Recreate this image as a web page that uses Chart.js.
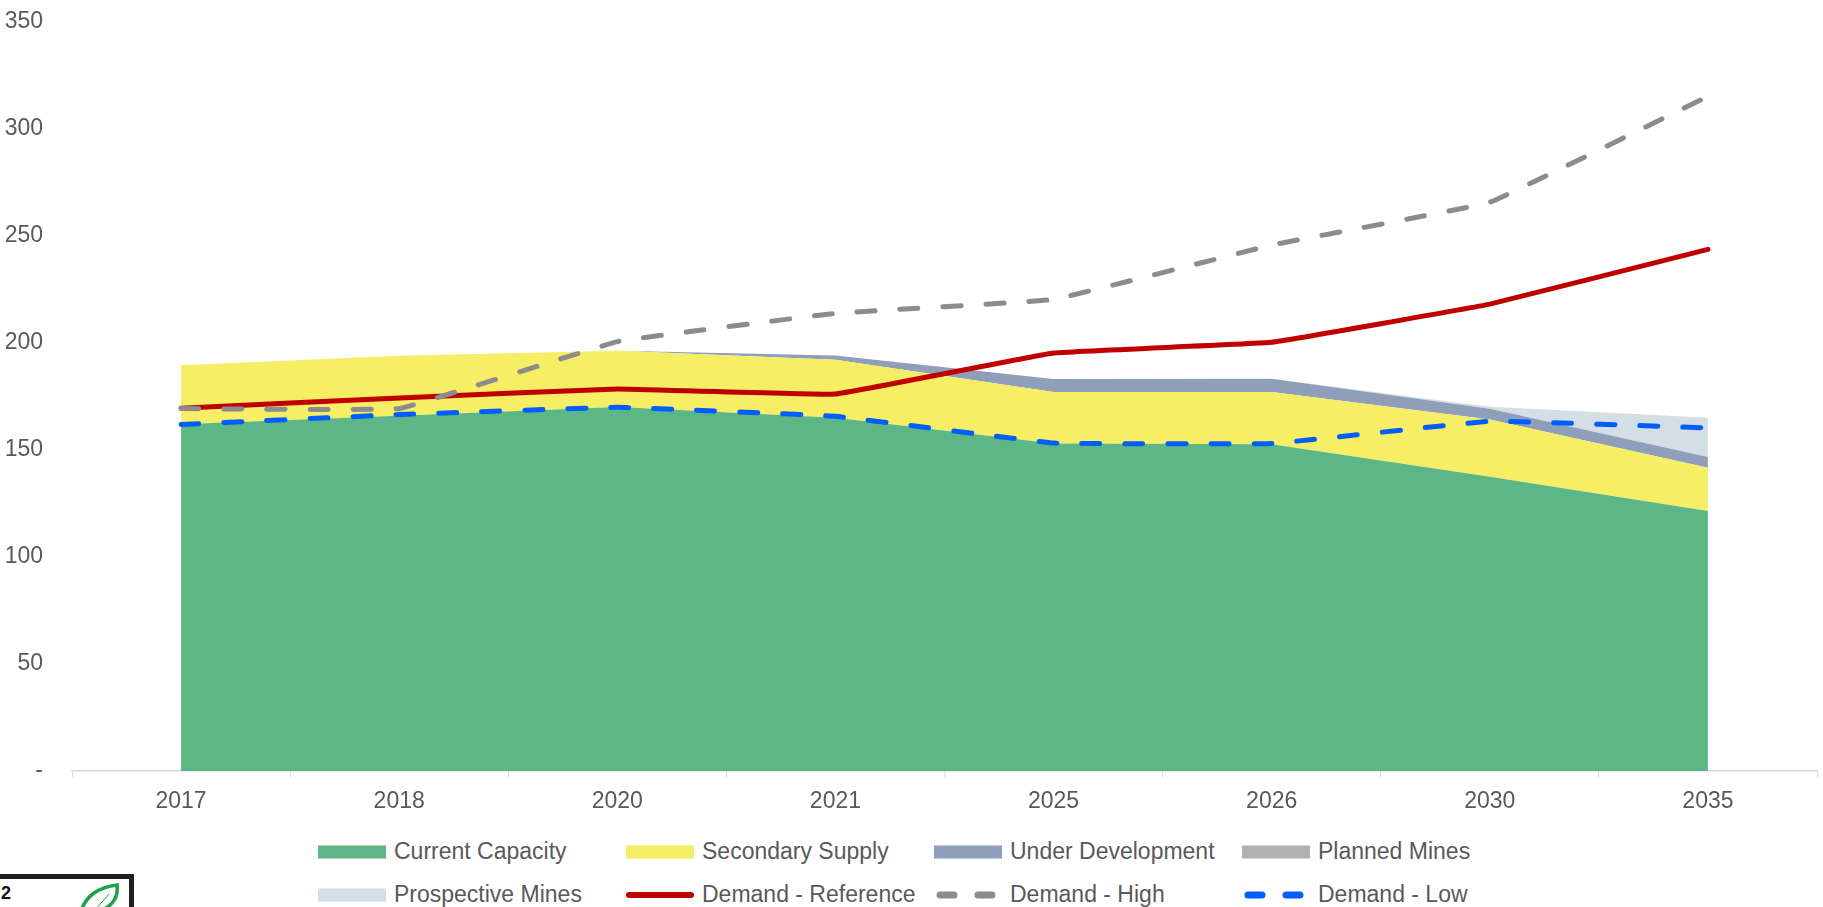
<!DOCTYPE html>
<html>
<head>
<meta charset="utf-8">
<script src="https://cdn.jsdelivr.net/npm/chart.js@4.4.1/dist/chart.umd.min.js"></script>
<style>
  html, body { margin: 0; padding: 0; background: #fff; }
  body { width: 1823px; height: 907px; position: relative; overflow: hidden; font-family: "Liberation Sans", Arial, sans-serif; }
  #wrap { position: absolute; left: 0; top: -13px; width: 1823px; height: 843px; }
  #legend { position: absolute; left: 318px; top: 838px; width: 1300px; display: grid; grid-template-columns: repeat(4, 308px); row-gap: 16px; }
  .item { display: flex; align-items: center; height: 27px; color: #595959; font-size: 23px; white-space: nowrap; }
  .item svg { margin-right: 8px; flex: none; }
  #logo { position: absolute; left: -10px; top: 874px; width: 144px; height: 60px; border: 5px solid #231f20; box-sizing: border-box; background: #fff; }
  #logo span { position: absolute; left: 6px; top: 4px; font: bold 18px "Liberation Sans", Arial, sans-serif; color: #111; }
</style>
</head>
<body>
<div id="wrap"><canvas id="supplyChart"></canvas></div>
<div id="legend"></div>
<div id="logo"><span>2</span>
  <svg width="46" height="30" style="position:absolute;left:82px;top:3px">
    <path d="M4 30 C 8 14, 22 5, 40 3 C 42 18, 32 28, 16 30" fill="none" stroke="#1aa34a" stroke-width="3.5"/>
    <path d="M18 28 L 32 12" stroke="#1aa34a" stroke-width="1"/>
  </svg>
</div>
<script>
// Categorias (anos)
const years = ['2017', '2018', '2020', '2021', '2025', '2026', '2030', '2035'];

// Oferta (áreas empilhadas)
const currentCapacity = [162, 166, 170, 165, 153, 152.6, 137.5, 121.5];
const secondarySupply = [27.5, 28, 26.3, 27.1, 24.1, 24.4, 26.7, 20.2];
const underDevelopment = [0, 0, 0, 2, 6, 6.3, 5, 5];
const plannedMines = [0, 0, 0, 0, 0, 0, 0, 0];
const prospectiveMines = [0, 0, 0, 0, 0, 0, 1, 18.3];

// Demanda (linhas)
const demandReference = [169.5, 174.3, 178.5, 176.1, 195.3, 200.3, 218.1, 243.7];
const demandHigh = [169.3, 169.3, 200.6, 213.8, 220.3, 245.7, 265.7, 315.2];
const demandLow = [161.9, 166.5, 169.9, 165.7, 153.2, 153, 163.4, 160.3];

const yTicks = [0, 50, 100, 150, 200, 250, 300, 350];

const textColor = '#595959';
const font = { family: '"Liberation Sans", Arial, sans-serif', size: 23 };

function area(label, data, color, first) {
    return {
        label: label, data: data, type: 'line', stack: 'supply', order: 10,
        backgroundColor: color, borderColor: color, borderWidth: 0,
        fill: first ? 'origin' : '-1', pointRadius: 0, tension: 0,
        legendKind: 'box'
    };
}
function line(label, data, color, dash, order) {
    return {
        label: label, data: data, type: 'line', stack: label, order: order,
        borderColor: color, backgroundColor: color, borderWidth: 5,
        borderDash: dash, borderCapStyle: 'round', borderJoinStyle: 'round',
        fill: false, pointRadius: 0, tension: 0.06,
        legendKind: dash.length ? 'dash' : 'line'
    };
}

const datasets = [
    area('Current Capacity', currentCapacity, '#5cb685', true),
    area('Secondary Supply', secondarySupply, '#f6ee64', false),
    area('Under Development', underDevelopment, '#8f9fba', false),
    area('Planned Mines', plannedMines, '#b0b0b0', false),
    area('Prospective Mines', prospectiveMines, '#d3dee5', false),
    line('Demand - Reference', demandReference, '#c00000', [], 3),
    line('Demand - High', demandHigh, '#8c8c8c', [18, 25], 2),
    line('Demand - Low', demandLow, '#005eff', [18, 25], 1)
];

const canvas = document.getElementById('supplyChart');
const chart = new Chart(canvas, {
    type: 'line',
    data: { labels: years, datasets: datasets },
    options: {
        responsive: true,
        maintainAspectRatio: false,
        animation: false,
        layout: { padding: { top: 5, right: 6, left: 0, bottom: 0 } },
        plugins: { legend: { display: false }, tooltip: { enabled: false } },
        scales: {
            x: {
                offset: true,
                grid: { offset: true, drawOnChartArea: false, drawTicks: true, tickLength: 6, color: '#d9d9d9' },
                border: { color: '#d9d9d9', width: 1.5 },
                ticks: { color: textColor, font: font, padding: 11, maxRotation: 0 },
                afterFit: function (s) { s.height = 59; }
            },
            y: {
                stacked: true,
                min: 0, max: 350,
                afterBuildTicks: function (s) { s.ticks = yTicks.map(v => ({ value: v })); },
                grid: { display: false },
                border: { display: false },
                ticks: {
                    color: textColor, font: font, padding: 21,
                    callback: v => v === 0 ? '-' : v
                },
                afterFit: function (s) { s.width = 72; }
            }
        }
    }
});

// Legenda em grade (4 colunas), igual ao original
const legend = document.getElementById('legend');
chart.data.datasets.forEach(function (ds) {
    const item = document.createElement('div');
    item.className = 'item';
    let icon;
    if (ds.legendKind === 'box') {
        icon = '<svg width="68" height="14"><rect x="0" y="0.5" width="68" height="13" fill="' + ds.backgroundColor + '"/></svg>';
    } else if (ds.legendKind === 'line') {
        icon = '<svg width="68" height="14"><line x1="3" y1="7" x2="65" y2="7" stroke="' + ds.borderColor + '" stroke-width="6" stroke-linecap="round"/></svg>';
    } else {
        icon = '<svg width="68" height="14"><line x1="6" y1="7" x2="66" y2="7" stroke="' + ds.borderColor + '" stroke-width="7" stroke-linecap="round" stroke-dasharray="14 24"/></svg>';
    }
    item.innerHTML = icon + '<span>' + ds.label + '</span>';
    legend.appendChild(item);
});
</script>
</body>
</html>
